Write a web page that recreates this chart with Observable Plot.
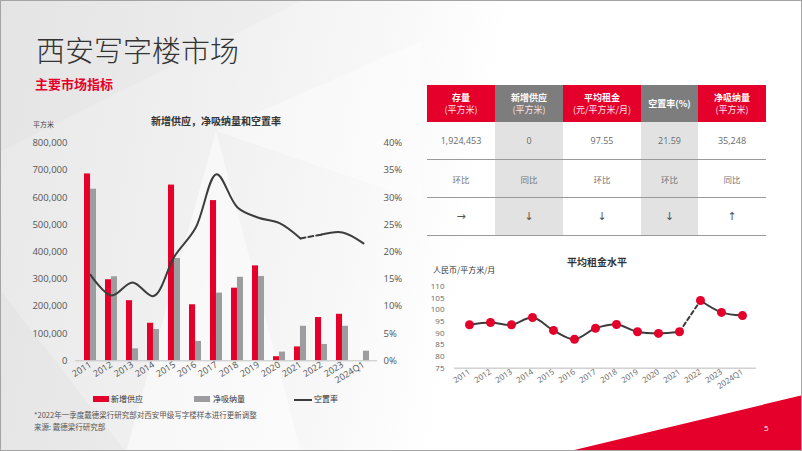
<!DOCTYPE html>
<html><head><meta charset="utf-8">
<script src="https://cdn.jsdelivr.net/npm/d3@7"></script>
<script src="https://cdn.jsdelivr.net/npm/@observablehq/plot@0.6"></script>
<style>
html,body{margin:0;padding:0;background:#fff;}
body{width:802px;height:451px;overflow:hidden;font-family:"Noto Sans CJK SC","Open Sans",sans-serif;}
#slide{position:relative;width:800px;height:449px;border:1px solid #a4a4a4;overflow:hidden;
 background:linear-gradient(100deg,#e8e8e8 0%,#f1f1f1 28%,#f8f8f8 45%,#ffffff 58%);}
.abs{position:absolute;white-space:nowrap;}
.shard{position:absolute;left:0;top:0;width:802px;height:451px;}
#tbl{position:absolute;left:426px;top:84px;border-collapse:collapse;table-layout:fixed;}
#tbl td{padding:0;text-align:center;vertical-align:middle;}
#tbl tr.h td{height:37px;color:#fff;font-size:9px;line-height:12px;}
#tbl tr.h b{font-weight:700;}
#tbl tr.h span{color:#fbe3e7;}
#tbl tr.b td{height:37px;border-bottom:1px solid #9a9a9a;}
#tbl tr.v td{color:#6a6a6a;font-family:"Open Sans",sans-serif;font-size:9px;}
#tbl tr.c td{color:#777;font-size:8.5px;}
#tbl tr.a td{color:#555;font-size:11px;font-family:"DejaVu Sans",sans-serif;}
</style></head>
<body><div id="slide">
<div class="shard" style="background:rgba(255,255,255,0.5);clip-path:polygon(125px 451px,215px 130px,300px 451px);"></div>
<div class="shard" style="background:rgba(0,0,0,0.02);clip-path:polygon(0 290px,125px 451px,0 451px);"></div>
<div class="shard" style="background:rgba(255,255,255,0.4);clip-path:polygon(215px 130px,420px 40px,420px 200px);"></div>
<div class="shard" style="background:rgba(0,0,0,0.015);clip-path:polygon(0 0,300px 0,0 150px);"></div>
<div class="shard" style="background:#e4002b;clip-path:polygon(565px 451px,802px 394px,802px 451px);"></div>

<div class="abs" style="left:35px;top:32px;font-size:29px;line-height:32px;color:#333;font-weight:300;">西安写字楼市场</div>
<div class="abs" style="left:34px;top:75px;font-size:13px;line-height:16px;color:#e4002b;font-weight:700;">主要市场指标</div>

<div class="abs" style="left:140px;top:113px;width:150px;text-align:center;font-size:10px;line-height:13px;color:#333;font-weight:700;">新增供应，净吸纳量和空置率</div>
<div class="abs" style="left:32px;top:119px;font-size:7px;line-height:9px;color:#444;">平方米</div>
<div id="left" class="abs" style="left:0;top:0;"></div>

<div class="abs" style="left:92px;top:395px;width:16px;height:6px;background:#e4002b;"></div>
<div class="abs" style="left:110px;top:392px;font-size:8px;line-height:12px;color:#333;">新增供应</div>
<div class="abs" style="left:193px;top:395px;width:16px;height:6px;background:#9d9d9f;"></div>
<div class="abs" style="left:212px;top:392px;font-size:8px;line-height:12px;color:#333;">净吸纳量</div>
<div class="abs" style="left:293px;top:398px;width:18px;height:2px;background:#3c3c3c;"></div>
<div class="abs" style="left:313px;top:392px;font-size:8px;line-height:12px;color:#333;">空置率</div>
<div class="abs" style="left:33px;top:409px;font-size:7.5px;line-height:10px;color:#555;">*2022年一季度戴德梁行研究部对西安甲级写字楼样本进行更新调整</div>
<div class="abs" style="left:33px;top:421px;font-size:7.5px;line-height:10px;color:#555;">来源: 戴德梁行研究部</div>

<table id="tbl"></table>

<div class="abs" style="left:546px;top:254px;width:100px;text-align:center;font-size:10px;line-height:13px;color:#333;font-weight:700;">平均租金水平</div>
<div class="abs" style="left:432px;top:263px;font-size:8px;line-height:11px;color:#333;">人民币/平方米/月</div>
<div id="rent" class="abs" style="left:420px;top:270px;"></div>

<div class="abs" style="left:763px;top:421px;font-size:8px;line-height:11px;color:#fff;font-family:'Open Sans',sans-serif;">5</div>
</div>
<script>
// ---- data ----
const years = ["2011","2012","2013","2014","2015","2016","2017","2018","2019","2020","2021","2022","2023","2024Q1"];
const newSupply = [687000, 298000, 221000, 138000, 646000, 206000, 589000, 267000, 349000, 15000, 51000, 159000, 171000, 0];
const netAbsorption = [631000, 309000, 44000, 115000, 376000, 71000, 249000, 307000, 310000, 32000, 127000, 60000, 127000, 35248];
const vacancyRate = [15.8, 12.0, 14.4, 11.9, 19.2, 24.4, 34.3, 28.2, 26.3, 25.3, 22.5, 23.2, 23.6, 21.59];
const avgRent = [93.6, 94.6, 93.6, 96.7, 91.2, 87.4, 92.1, 93.7, 90.6, 89.9, 90.6, 104.0, 98.9, 97.55];
const areaTicks = [0, 100000, 200000, 300000, 400000, 500000, 600000, 700000, 800000];
const pctTicks = [0, 5, 10, 15, 20, 25, 30, 35, 40];
const rentTicks = [75, 80, 85, 90, 95, 100, 105, 110];

const tblHeads = ["存量","新增供应","平均租金","空置率(%)","净吸纳量"];
const tblUnits = ["(平方米)","(平方米)","(元/平方米/月)","","(平方米)"];
const tblValues = ["1,924,453","0","97.55","21.59","35,248"];
const tblCompare = ["环比","同比","环比","环比","同比"];
const tblTrend = ["→","↓","↓","↓","↑"];

const RED = "#e4002b", GRAY = "#9d9d9f", LINE = "#3c3c3c";

// ---- table ----
const colW = [68, 68, 78, 57, 68];
const headBg = [RED, "#7d7d7d", RED, "#7d7d7d", RED];
const bodyBg = ["transparent", "#e2e2e2", "transparent", "#e2e2e2", "transparent"];
const tbl = document.getElementById("tbl");
let html = "<colgroup>" + colW.map(w => `<col style="width:${w}px">`).join("") + "</colgroup>";
html += `<tr class="h">` + tblHeads.map((h, i) =>
  `<td style="background:${headBg[i]}"><b>${h}</b>${tblUnits[i] ? "<br><span>" + tblUnits[i] + "</span>" : ""}</td>`).join("") + "</tr>";
for (const [cls, arr] of [["v", tblValues], ["c", tblCompare], ["a", tblTrend]]) {
  html += `<tr class="b ${cls}">` + arr.map((t, i) => `<td style="background:${bodyBg[i]}">${t}</td>`).join("") + "</tr>";
}
tbl.innerHTML = html;

// ---- left chart ----
const k = 800000 / 40; // map percent onto the area scale for the secondary axis
const rows = years.map((y, i) => ({year: y, supply: newSupply[i], absorb: netAbsorption[i], vac: vacancyRate[i] * k}));
const lineOpts = {x: "year", y: "vac", curve: "catmull-rom", stroke: LINE, strokeWidth: 2};
const left = Plot.plot({
  width: 420, height: 392,
  marginLeft: 74, marginRight: 44, marginTop: 141.7, marginBottom: 32.7,
  x: {type: "band", domain: years, paddingInner: 0.44, paddingOuter: 0.3, axis: null},
  y: {domain: [0, 800000], axis: null},
  style: {fontFamily: "'Open Sans', sans-serif", fontSize: "9.5px", color: "#555", background: "transparent", overflow: "visible"},
  marks: [
    Plot.barY(rows, {x: "year", y: "supply", fill: RED, insetRight: 5.95}),
    Plot.barY(rows, {x: "year", y: "absorb", fill: GRAY, insetLeft: 5.95}),
    Plot.ruleY([0], {stroke: "#c4c4c4", strokeWidth: 1}),
    Plot.line(rows.slice(0, 11), lineOpts),
    Plot.line(rows.slice(10, 12), {...lineOpts, strokeDasharray: "5,3"}),
    Plot.line(rows.slice(11), lineOpts),
    Plot.axisY({anchor: "left", ticks: areaTicks, tickFormat: d3.format(","), tickSize: 0, tickPadding: 8, label: null}),
    Plot.axisY({anchor: "right", ticks: pctTicks.map(p => p * k), tickFormat: d => Math.round(d / k) + "%", tickSize: 0, tickPadding: 6, label: null}),
    Plot.axisX({tickRotate: -32, tickSize: 0, tickPadding: 3, fontSize: 9, label: null})
  ]
});
document.getElementById("left").appendChild(left);

// ---- rent chart ----
const rentRows = years.map((y, i) => ({year: y, rent: avgRent[i]}));
const rOpts = {x: "year", y: "rent", curve: "catmull-rom", stroke: LINE, strokeWidth: 2};
const rentPlot = Plot.plot({
  width: 345, height: 130,
  marginLeft: 33, marginRight: 10, marginTop: 15, marginBottom: 33.3,
  x: {type: "point", domain: years, padding: 0.5, axis: null},
  y: {domain: [75, 110], axis: null},
  style: {fontFamily: "'Open Sans', sans-serif", fontSize: "8px", color: "#666", background: "transparent", overflow: "visible"},
  marks: [
    Plot.ruleY([75], {stroke: "#d2d2d2", strokeWidth: 1.5}),
    Plot.line(rentRows.slice(0, 11), rOpts),
    Plot.line(rentRows.slice(10, 12), {...rOpts, strokeDasharray: "4,3"}),
    Plot.line(rentRows.slice(11), rOpts),
    Plot.dot(rentRows, {x: "year", y: "rent", r: 4.5, fill: RED}),
    Plot.axisY({anchor: "left", ticks: rentTicks, tickSize: 0, tickPadding: 10, label: null}),
    Plot.axisX({tickRotate: -33, tickSize: 0, tickPadding: 3, label: null})
  ]
});
document.getElementById("rent").appendChild(rentPlot);
</script>
</body></html>
